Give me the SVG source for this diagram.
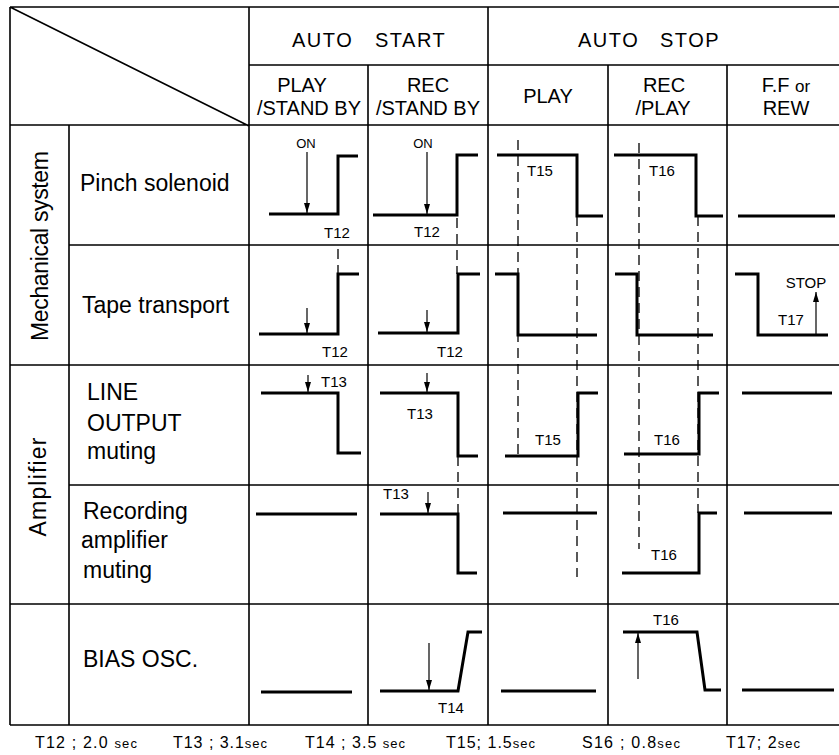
<svg xmlns="http://www.w3.org/2000/svg" width="839" height="755" viewBox="0 0 839 755">
<defs>
<style>
.g{stroke:#000;stroke-width:1.6;fill:none}
.w{stroke:#000;stroke-width:3;fill:none;stroke-linejoin:miter}
.d{stroke:#000;stroke-width:1.3;fill:none;stroke-dasharray:10 6}
.a{stroke:#000;stroke-width:1.2;fill:none;marker-end:url(#ah)}
text{font-family:"Liberation Sans",Arial,sans-serif;fill:#000}
.h{font-size:20px;text-anchor:middle}
.hs{font-size:20px;letter-spacing:1.5px}
.l{font-size:23px}
.t{font-size:15px;text-anchor:middle}
.s{font-size:13px;text-anchor:middle}
.f{font-size:16px}
.f tspan{font-size:13px}
</style>
<marker id="ah" viewBox="0 0 10 10" refX="10" refY="5" markerWidth="10" markerHeight="6" orient="auto" markerUnits="userSpaceOnUse" preserveAspectRatio="none"><path d="M0,0 L10,5 L0,10 z" fill="#000"/></marker>
</defs>
<rect width="839" height="755" fill="#fff"/>
<g id="grid" class="g">
<path d="M10,7 H839 M10,7 V725 M10,725 H839 M10,7 L249,126 M249,7 V725 M488,7 V725 M249,65 H839 M368,65 V725 M608,65 V725 M727,65 V725 M10,125 H839 M69,125 V725 M69,245 H839 M10,365 H839 M69,485 H839 M10,604 H839"/>
</g>
<g id="headers">
<text class="hs" x="292" y="47">AUTO</text>
<text class="hs" x="375" y="47">START</text>
<text class="hs" x="578" y="47">AUTO</text>
<text class="hs" x="660" y="47">STOP</text>
<text class="h" x="302" y="92">PLAY</text>
<text class="h" x="309" y="115">/STAND BY</text>
<text class="h" x="428" y="92">REC</text>
<text class="h" x="428" y="115">/STAND BY</text>
<text class="h" x="548" y="103">PLAY</text>
<text class="h" x="664" y="92">REC</text>
<text class="h" x="663" y="115">/PLAY</text>
<text class="h" x="786" y="92">F.F <tspan font-size="17">or</tspan></text>
<text class="h" x="786" y="115">REW</text>
</g>
<g id="categories">
<text class="l" font-size="22" text-anchor="middle" transform="translate(48,246) rotate(-90)" textLength="190" lengthAdjust="spacing">Mechanical system</text>
<text class="l" text-anchor="middle" transform="translate(46,487) rotate(-90)" textLength="99" lengthAdjust="spacing">Amplifier</text>
</g>
<g id="row-labels">
<text id="lbl-pinch" class="l" x="80" y="191">Pinch solenoid</text>
<text id="lbl-tape" class="l" x="82" y="313">Tape transport</text>
<text id="lbl-line" class="l" x="87"><tspan x="87" y="400">LINE</tspan><tspan x="87" y="431">OUTPUT</tspan><tspan x="87" y="459">muting</tspan></text>
<text id="lbl-rec" class="l" x="83"><tspan x="83" y="519">Recording</tspan><tspan x="81" y="548">amplifier</tspan><tspan x="83" y="578">muting</tspan></text>
<text id="lbl-bias" class="l" x="83" y="667">BIAS  OSC.</text>
</g>
<g id="col-play-standby">
<path class="w" d="M269,214 H338 V156 H358"/>
<path class="w" d="M259,334 H338 V274 H359"/>
<path class="w" d="M261,393 H338 V453 H361"/>
<path class="w" d="M256,514 H357"/>
<path class="w" d="M261,692 H352"/>
<text class="s" x="306" y="148">ON</text>
<text class="t" x="337" y="238">T12</text>
<text class="t" x="335" y="357">T12</text>
<text class="t" x="334" y="387">T13</text>
</g>
<g id="col-rec-standby">
<path class="w" d="M373,215 H457 V155 H478"/>
<path class="w" d="M378,333 H458 V274 H480"/>
<path class="w" d="M380,393 H458 V456 H478"/>
<path class="w" d="M380,514 H458 V573 H477"/>
<path class="w" d="M380,691 H458 L468,632 H482"/>
<text class="s" x="423" y="148">ON</text>
<text class="t" x="427" y="237">T12</text>
<text class="t" x="450" y="357">T12</text>
<text class="t" x="420" y="419">T13</text>
<text class="t" x="396" y="499">T13</text>
<text class="t" x="451" y="713">T14</text>
</g>
<g id="col-play">
<path class="w" d="M497,155 H577 V216 H603"/>
<path class="w" d="M495,274 H518 V335 H597"/>
<path class="w" d="M505,456 H578 V393 H598"/>
<path class="w" d="M503,513 H597"/>
<path class="w" d="M501,691 H596"/>
<text class="t" x="540" y="176">T15</text>
<text class="t" x="548" y="445">T15</text>
</g>
<g id="col-rec-play">
<path class="w" d="M614,155 H696 V216 H723"/>
<path class="w" d="M615,274 H637 V335 H713"/>
<path class="w" d="M624,454 H699 V393 H719"/>
<path class="w" d="M622,573 H699 V513 H717"/>
<path class="w" d="M623,632 H697 L705,690 H721"/>
<text class="t" x="662" y="176">T16</text>
<text class="t" x="667" y="445">T16</text>
<text class="t" x="664" y="560">T16</text>
<text class="t" x="666" y="625">T16</text>
</g>
<g id="col-ff-rew">
<path class="w" d="M738,216 H835"/>
<path class="w" d="M735,274 H758 V335 H828"/>
<path class="w" d="M742,393 H832"/>
<path class="w" d="M744,513 H832"/>
<path class="w" d="M742,690 H834"/>
<text class="t" x="806" y="288">STOP</text>
<text class="t" x="791" y="325">T17</text>
</g>
<g id="connectors">
<path class="d" d="M338,249 V274"/>
<path class="d" d="M457,218 V274"/>
<path class="d" d="M458,456 V514"/>
<path class="d" d="M518,140 V455"/>
<path class="d" d="M577,216 V577"/>
<path class="d" d="M639,143 V549"/>
<path class="d" d="M698,216 V513"/>
<path class="a" d="M307,152 V213"/>
<path class="a" d="M307,308 V333"/>
<path class="a" d="M308,375 V392"/>
<path class="a" d="M427,152 V214"/>
<path class="a" d="M427,310 V332"/>
<path class="a" d="M427,373 V392"/>
<path class="a" d="M428,492 V513"/>
<path class="a" d="M429,643 V690"/>
<path class="a" d="M638,679 V633"/>
<path class="a" d="M816,335 V292"/>
</g>
<g id="footer">
<text class="f" x="35" y="748" textLength="102" lengthAdjust="spacing">T12 ; 2.0 <tspan>sec</tspan></text>
<text class="f" x="173" y="748" textLength="94" lengthAdjust="spacing">T13 ; 3.1<tspan>sec</tspan></text>
<text class="f" x="305" y="748" textLength="100" lengthAdjust="spacing">T14 ; 3.5 <tspan>sec</tspan></text>
<text class="f" x="446" y="748" textLength="89" lengthAdjust="spacing">T15; 1.5<tspan>sec</tspan></text>
<text class="f" x="582" y="748" textLength="98" lengthAdjust="spacing">S16 ; 0.8<tspan>sec</tspan></text>
<text class="f" x="726" y="748" textLength="74" lengthAdjust="spacing">T17; 2<tspan>sec</tspan></text>
</g>
</svg>
